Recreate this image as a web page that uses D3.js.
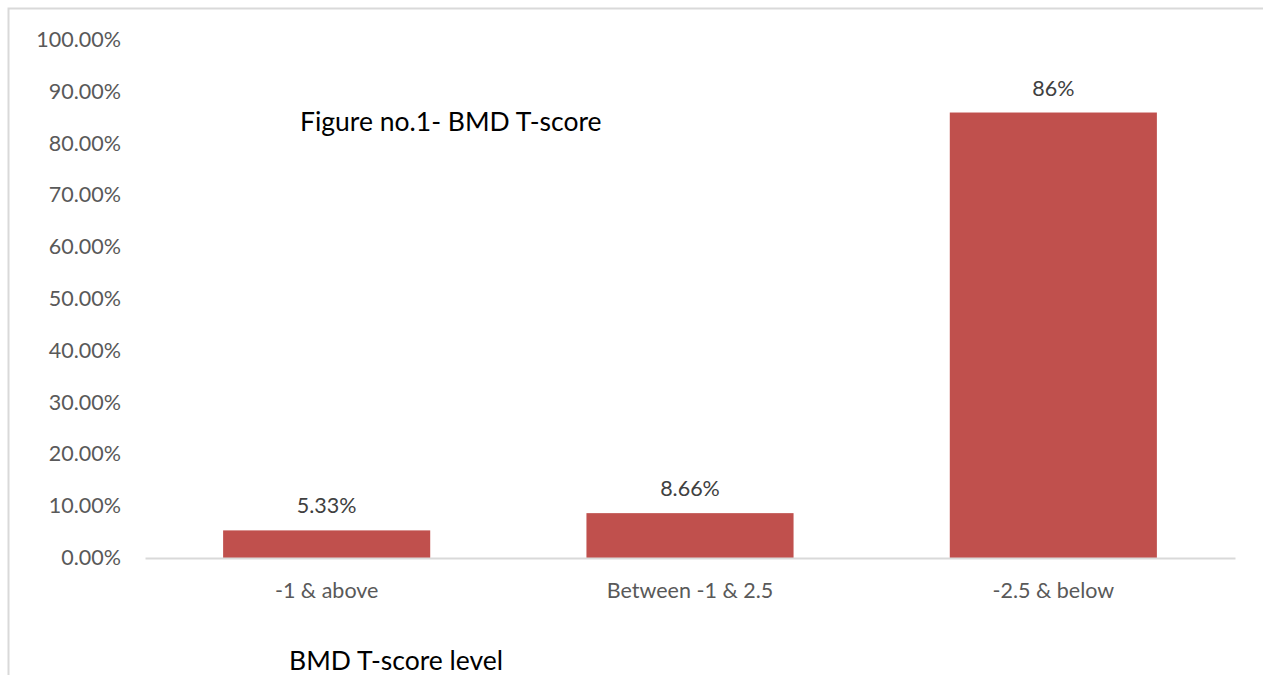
<!DOCTYPE html>
<html lang="en">
<head>
    <title>BMD T-score</title>
    <script src="https://d3js.org/d3.v7.min.js"></script>
    <style>
        body { margin: 0; background: #fff; }
        text { font-family: Lato, "Noto Sans", sans-serif; }
        .tick text { fill: #595959; font-size: 21.5px; }
    </style>
</head>
<body>
<div id="chart"></div>
<script>
    var categories = ["-1 & above", "Between -1 & 2.5", "-2.5 & below"];
    var values = [5.33, 8.66, 86];
    var valueLabels = ["5.33%", "8.66%", "86%"];
    var yTicks = [0, 10, 20, 30, 40, 50, 60, 70, 80, 90, 100];

    var w = 1263;
    var h = 675;
    var padL = 145, padR = 1235, padT = 40, padB = 558;

    var svg = d3.select("#chart")
        .append("svg")
        .attr("width", w)
        .attr("height", h);

    // outer frame (top and left edges only visible)
    svg.append("path")
        .attr("d", "M8.5," + h + "V8.5H" + w)
        .attr("fill", "none")
        .attr("stroke", "#d9d9d9")
        .attr("stroke-width", 2);

    var xScale = d3.scaleBand()
        .domain(categories)
        .range([padL, padR])
        .paddingInner(0.43)
        .paddingOuter(0.215);

    var yScale = d3.scaleLinear()
        .domain([0, 100])
        .range([padB, padT]);

    svg.selectAll("rect.bar")
        .data(values)
        .enter()
        .append("rect")
        .attr("class", "bar")
        .attr("x", (d, i) => xScale(categories[i]))
        .attr("y", d => yScale(d))
        .attr("width", xScale.bandwidth())
        .attr("height", d => yScale(0) - yScale(d))
        .attr("fill", "#c0504d");

    svg.selectAll("text.val")
        .data(values)
        .enter()
        .append("text")
        .attr("class", "val")
        .attr("x", (d, i) => xScale(categories[i]) + xScale.bandwidth() / 2)
        .attr("y", d => yScale(d) - 17)
        .attr("text-anchor", "middle")
        .attr("fill", "#404040")
        .style("font-size", "21.5px")
        .text((d, i) => valueLabels[i]);

    var yAxis = svg.append("g")
        .attr("transform", "translate(" + (padL - 24) + ",0)")
        .call(d3.axisLeft(yScale).tickValues(yTicks).tickSize(0).tickPadding(0)
            .tickFormat(d => d.toFixed(2) + "%"));
    yAxis.select(".domain").remove();
    yAxis.selectAll("text").attr("dy", "0.3em");

    var xAxis = svg.append("g")
        .attr("transform", "translate(0," + padB + ")")
        .call(d3.axisBottom(xScale).tickSize(0).tickPadding(25));
    xAxis.select(".domain").attr("stroke", "#d9d9d9").attr("stroke-width", 2);

    svg.append("text")
        .attr("x", 300)
        .attr("y", 131)
        .attr("fill", "#000")
        .style("font-size", "26.5px")
        .text("Figure no.1- BMD T-score");

    svg.append("text")
        .attr("x", 289)
        .attr("y", 670)
        .attr("fill", "#000")
        .style("font-size", "26.5px")
        .text("BMD T-score level");
</script>
</body>
</html>
